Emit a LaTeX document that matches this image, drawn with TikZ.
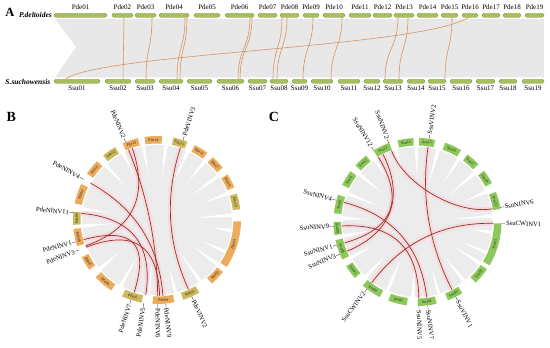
\documentclass[tikz,border=0pt]{standalone}
\usepackage{fontspec}
\setmainfont{Liberation Serif}
\definecolor{bar}{RGB}{168,190,92}
\definecolor{barline}{RGB}{125,150,60}
\definecolor{syn}{RGB}{232,232,232}
\definecolor{alink}{RGB}{214,140,90}
\definecolor{clink}{RGB}{150,50,25}
\definecolor{glow}{RGB}{250,200,215}
\definecolor{pdebox}{RGB}{236,172,92}
\definecolor{pdeolive}{RGB}{205,186,92}
\definecolor{ssubox}{RGB}{140,200,90}
\definecolor{ring}{RGB}{236,236,236}
\begin{document}
\begin{tikzpicture}[x=1pt,y=1pt,
  chrom/.style={fill=bar, draw=barline, line width=0.3pt, rounded corners=1.6pt, minimum height=4pt, inner sep=0pt},
  clab/.style={font=\fontsize{7}{8}\selectfont, inner sep=0pt},
  synlink/.style={draw=alink, line width=0.55pt},
  circlink/.style={draw=clink, line width=0.7pt},
  glowlink/.style={draw=glow, line width=5pt, opacity=0.45},
  tickline/.style={draw=black!80, line width=0.35pt},
  labR/.style={anchor=west, inner sep=0.4pt, font=\fontsize{6.6}{7}\selectfont},
  labL/.style={anchor=east, inner sep=0.4pt, font=\fontsize{6.6}{7}\selectfont},
  boxlab/.style={font=\fontsize{4}{4}\selectfont, inner sep=0pt, text=black!85},
  panel/.style={font=\bfseries\fontsize{14}{14}\selectfont, inner sep=0pt},
  species/.style={font=\bfseries\itshape\fontsize{7.5}{8}\selectfont, inner sep=0pt, anchor=east}
]
\useasboundingbox (0,0) rectangle (550,348);

% ---------------- Panel A ----------------
\node[panel, font=\bfseries\fontsize{12.5}{13}\selectfont] (lblA) at (10,335.5) {A};
\node[species] (pdel) at (52,333) {P.deltoides};
\node[species] (ssuc) at (50.5,266.5) {S.suchowensis};

\fill[syn] (55,329) -- (544,329) -- (544,270.5) -- (55,270.5) -- (76,301) -- cycle;

\foreach \t/\b in {124/123, 152/146, 185/177, 187/180, 250/238, 252/240, 282/273, 287/277, 313/303, 342/331, 398/385, 408/399, 452/445}
  \draw[synlink] (\t,330.7) .. controls (\t,300) and (\b,300) .. (\b,268.7);
\draw[synlink] (65,268.7) .. controls (100,295) and (420,300) .. (469,330.7);

\foreach \nm/\a/\b in {01/54/107, 02/112/133, 03/135/156, 04/159/189, 05/194/220, 06/225/254, 07/258/277, 08/280/299, 09/303/319, 10/323/345, 11/349/371, 12/373/392, 13/394/414, 14/417/438, 15/441/458, 16/462/478, 17/482/500, 18/503/521, 19/525/544}{
  \node[chrom, minimum width={(\b-\a)*1pt}] (P\nm) at ({(\a+\b)/2},332.7) {};
  \node[clab, anchor=south] at ({(\a+\b)/2},338) {Pde\nm};
}
\foreach \nm/\a/\b in {01/54/100, 02/105/131, 03/135/155, 04/159/183, 05/187/212, 06/217/244, 07/248/267, 08/270/288, 09/292/307, 10/311/333, 11/338/360, 12/364/380, 13/383/403, 14/407/425, 15/428/446, 16/450/472, 17/476/495, 18/499/517, 19/522/544}{
  \node[chrom, minimum width={(\b-\a)*1pt}] (S\nm) at ({(\a+\b)/2},266.7) {};
  \node[clab, anchor=north] at ({(\a+\b)/2},262.5) {Ssu\nm};
}

% ---------------- Panel B ----------------
\node[panel] (lblB) at (11.3,231) {B};
\begin{scope}[shift={(157,128)}]
  \fill[ring] (0,0) circle (75);
  \foreach \g/\r in {83.2/45, 66/40, 50.9/48, 35.7/42, 20.4/50, 3.5/38, -8/55, -25/50, -36.2/44, -54.8/40, -75.6/50, -96.5/46, -118.8/42, -139.4/48, -158.3/52, -175.3/44, 171.5/50, 151.3/42, 133/46, 116.8/52, 100.6/48}
    \fill[white] (\g-1.4:76) -- (\g:\r) -- (\g+1.4:76) -- cycle;
  \foreach \a/\b in {72/-65.6, 112/-89.5, 109/-160, 151/-85.5, 175/-98.5, -165/-107.5, -159/-88}
    \draw[glowlink] (\a:76) .. controls (\a:25) and (\b:25) .. (\b:76);
  \foreach \a/\b in {72/-65.6, 112/-89.5, 109/-160, 151/-85.5, 175/-98.5, -165/-107.5, -159/-88}
    \draw[circlink] (\a:76) .. controls (\a:25) and (\b:25) .. (\b:76);
  \foreach \nm/\ang/\h/\col in {14/92.6/6/pdebox, 15/73.8/5/pdeolive, 16/58.2/5/pdebox, 17/43.5/5/pdebox, 18/27.9/5/pdebox, 19/12.9/5.5/pdeolive, 01/-17.5/16.5/pdebox, 02/-43.7/5.5/pdebox, 03/-65.8/6/pdeolive, 04/-85.5/7.5/pdebox, 05/-107.5/7/pdeolive, 06/-130/7/pdebox, 07/-148.7/5/pdebox, 08/-167.9/6/pdebox, 09/178.8/4.5/pdeolive, 10/161.6/7/pdebox, 11/141/5.5/pdebox, 12/124.9/5/pdeolive, 13/108.6/5.5/pdebox}{
    \pgfmathsetmacro\aa{\ang-\h}
    \pgfmathsetmacro\bb{\ang+\h}
    \pgfmathsetmacro\rot{\ang>0 ? \ang-90 : \ang+90}
    \fill[\col] (\aa:76.5) arc[start angle=\aa, end angle=\bb, radius=76.5] -- (\bb:84) arc[start angle=\bb, end angle=\aa, radius=84] -- cycle;
    \node[boxlab, rotate=\rot] (pde\nm) at (\ang:80.25) {Pde\nm};
  }
  \draw[tickline] (112:84) -- (112:88) node[labL, rotate=-68] {PdeNINV2};
  \draw[tickline] (72:84) -- (72:88) node[labR, rotate=72] {PdeVINV3};
  \draw[tickline] (151:84) -- (151:88) node[labL, rotate=-29] {PdeNINV4};
  \draw[tickline] (175:84) -- (175:88) node[labL, rotate=-5] {PdeNINV11};
  \draw[tickline] (-165:84) -- (-165:88) node[labL, rotate=15] {PdeNINV1};
  \draw[tickline] (-159:84) -- (-159:88) node[labL, rotate=21] {PdeNINV3};
  \draw[tickline] (-108:84) -- (-108:88) node[labL, rotate=72] {PdeNINV7};
  \draw[tickline] (-99:84) -- (-99:88) node[labL, rotate=81] {PdeNINV5};
  \draw[tickline] (-89.5:84) -- (-89.5:88) node[labR, rotate=-89.5] {PdeNINV6};
  \draw[tickline] (-84:84) -- (-84:88) node[labR, rotate=-84] {PdeNINV9};
  \draw[tickline] (-65.6:84) -- (-65.6:88) node[labR, rotate=-65.6] {PdeVINV2};
\end{scope}

% ---------------- Panel C ----------------
\node[panel] (lblC) at (274,231.3) {C};
\begin{scope}[shift={(417.5,126)}]
  \fill[ring] (0,0) circle (75);
  \foreach \g/\r in {90.8/46, 74.05/40, 56.65/48, 40.55/42, 23.8/50, 4.5/38, -8/55, -24/50, -33.6/44, -51.75/42, -73.35/50, -93.6/46, -113.75/42, -133.45/48, -151.85/52, -169.25/44, 177/50, 157.9/42, 140.5/46, 124.15/52, 106.95/48}
    \fill[white] (\g-1.4:76) -- (\g:\r) -- (\g+1.4:76) -- cycle;
  \foreach \a/\b/\k in {82/-63/25, 110/10/40, 121/-164/25, 117/-157.5/28, 165/-83/25, -177/-89/25, -1/-127/25}
    \draw[glowlink] (\a:76) .. controls (\a:\k) and (\b:\k) .. (\b:76);
  \foreach \a/\b/\k in {82/-63/25, 110/10/40, 121/-164/25, 117/-157.5/28, 165/-83/25, -177/-89/25, -1/-127/25}
    \draw[circlink] (\a:76) .. controls (\a:\k) and (\b:\k) .. (\b:76);
  \foreach \nm/\ang/\h in {14/98.3/5.5, 15/83.3/5.5, 16/64.8/6, 17/48.5/5, 18/32.6/5, 19/15/6, 01/-16/15, 02/-40.2/6, 03/-63.3/5.5, 04/-83.4/6.5, 05/-103.8/6.5, 06/-123.7/7, 07/-143.2/5, 08/-160.5/7, 09/-175.5/4.5, 10/167.5/6.5, 11/148.3/5.5, 12/132.7/5, 13/115.6/6}{
    \pgfmathsetmacro\aa{\ang-\h}
    \pgfmathsetmacro\bb{\ang+\h}
    \pgfmathsetmacro\rot{\ang>0 ? \ang-90 : \ang+90}
    \fill[ssubox] (\aa:76.5) arc[start angle=\aa, end angle=\bb, radius=76.5] -- (\bb:84) arc[start angle=\bb, end angle=\aa, radius=84] -- cycle;
    \node[boxlab, rotate=\rot] (ssu\nm) at (\ang:80.25) {Ssu\nm};
  }
  \draw[tickline] (121.5:84) -- (121.5:88) node[labL, rotate=-58.5] {SsuNINV12};
  \draw[tickline] (110:84) -- (110:88) node[labL, rotate=-70] {SsuNINV2};
  \draw[tickline] (82:84) -- (82:88) node[labR, rotate=82] {SsuVINV2};
  \draw[tickline] (165:84) -- (165:88) node[labL, rotate=-15] {SsuNINV4};
  \draw[tickline] (-177:84) -- (-177:88) node[labL, rotate=3] {SsuNINV9};
  \draw[tickline] (-164:84) -- (-164:88) node[labL, rotate=16] {SsuNINV1};
  \draw[tickline] (-157.5:84) -- (-157.5:88) node[labL, rotate=22.5] {SsuNINV3};
  \draw[tickline] (-127:84) -- (-127:88) node[labL, rotate=53] {SsuCWINV2};
  \draw[tickline] (-89:84) -- (-89:88) node[labR, rotate=-89] {SsuNINV5};
  \draw[tickline] (-83:84) -- (-83:88) node[labR, rotate=-83] {SsuNINV7};
  \draw[tickline] (-63:84) -- (-63:88) node[labR, rotate=-63] {SsuVINV1};
  \draw[tickline] (-1:84) -- (-1:88) node[labR, rotate=-1] {SsuCWINV1};
  \draw[tickline] (10:84) -- (10:88) node[labR, rotate=10] {SsuNINV6};
\end{scope}
\end{tikzpicture}
\end{document}
